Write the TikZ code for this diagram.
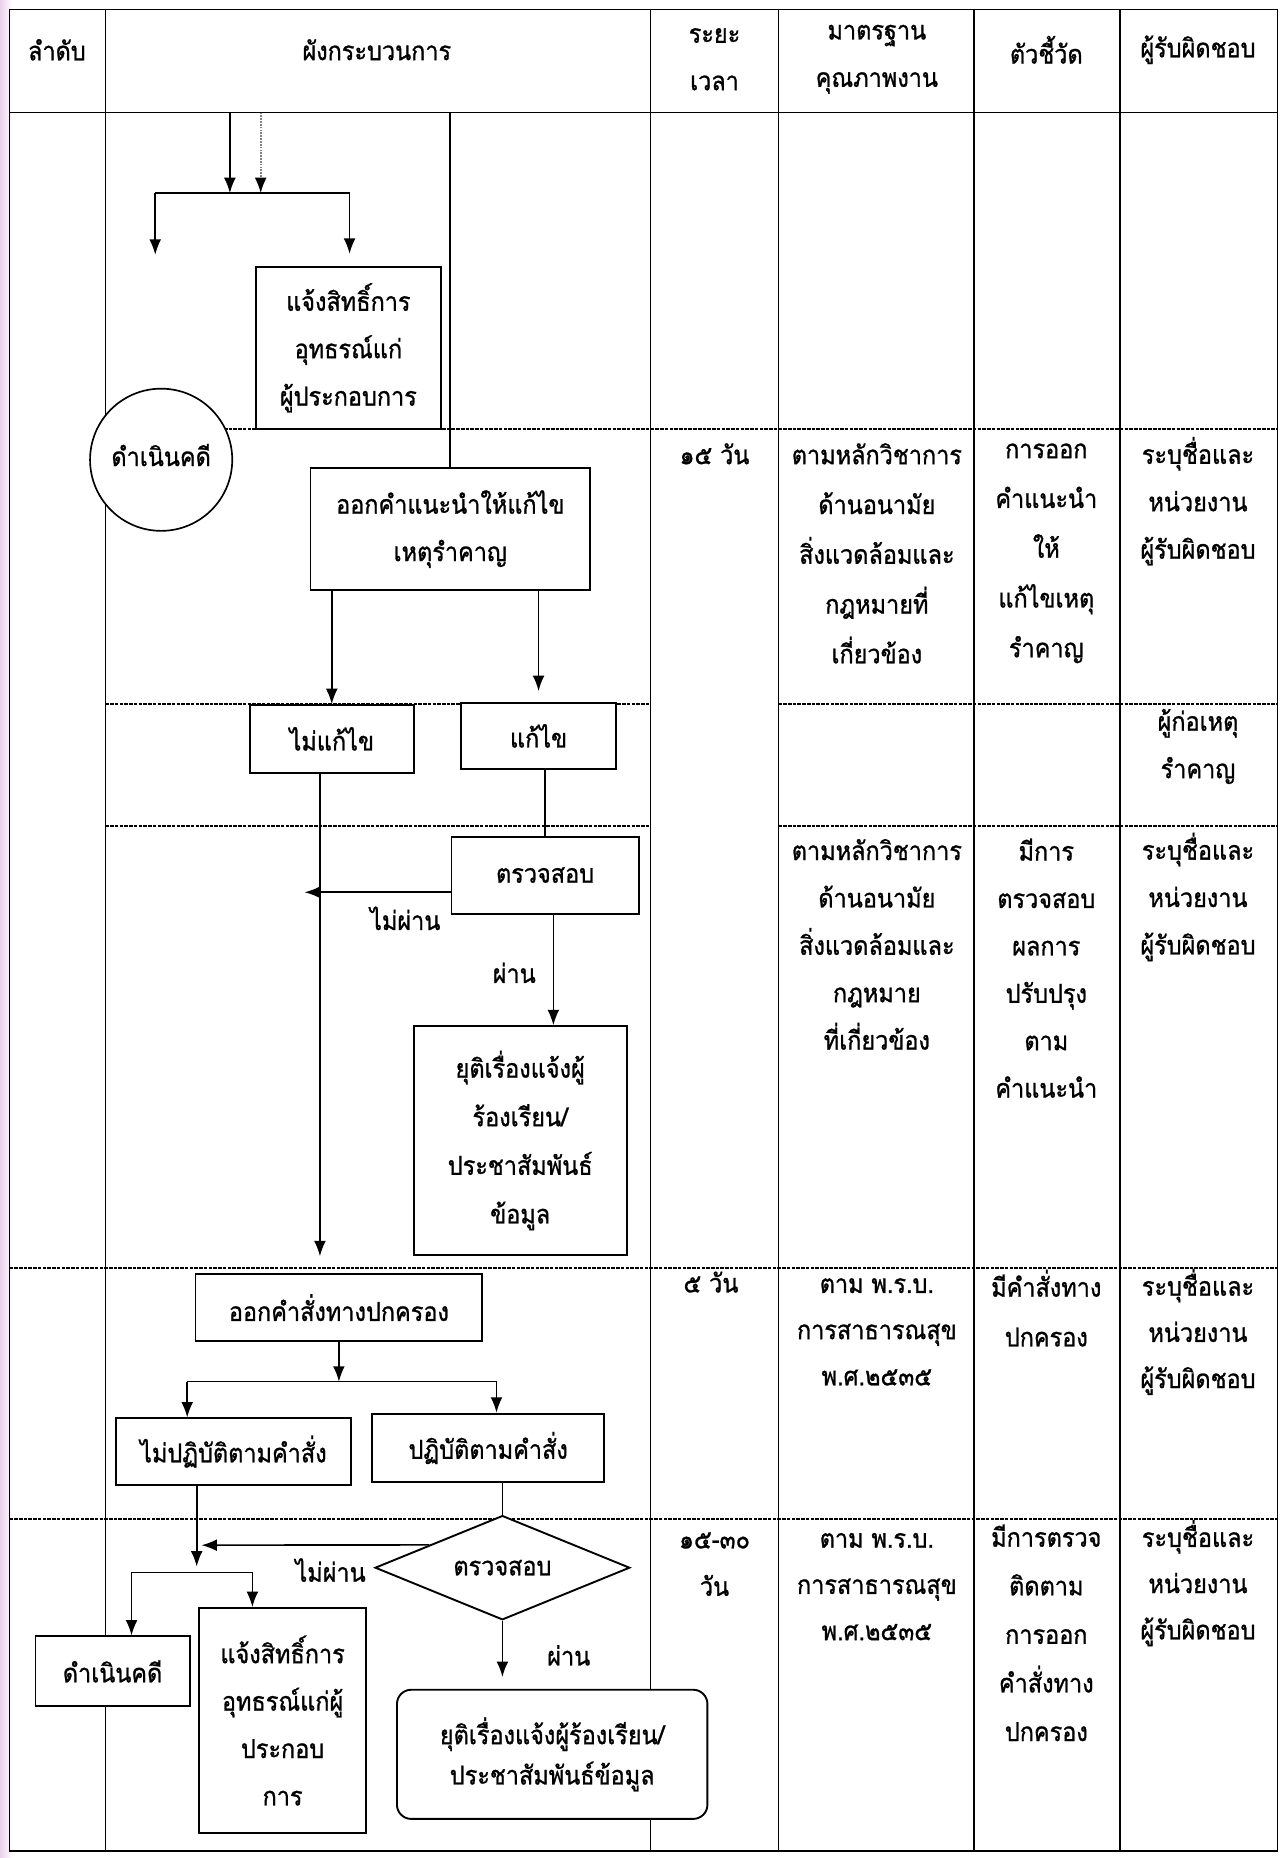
\documentclass[tikz,border=0pt]{standalone}
\usepackage{fontspec}
\setmainfont[Script=Thai,FakeStretch=0.9,FakeBold=1]{Loma}
\usepackage{xcolor}
\usepackage{tikz}
\usetikzlibrary{positioning,calc,shapes.geometric}
\usetikzlibrary{arrows.meta}

\begin{document}
\begin{tikzpicture}[x=1pt,y=-1pt,>={Latex[length=13pt,width=10pt]},
	every node/.style={font=\fontsize{22}{40}\selectfont,align=center,inner sep=0pt},
	txt/.style={font=\fontsize{22}{#1}\selectfont},
	box/.style={draw,line width=1.6pt,fill=white},
	grid/.style={line width=1.2pt},
	rowline/.style={line width=1.2pt,dash pattern=on 3pt off 1pt},
	flow/.style={line width=1.4pt}]
	\useasboundingbox (0,0) rectangle (1082,1568);
	\fill[left color=violet!18,right color=white] (0,0) rectangle (10,1568);
	% table
	\draw[grid] (8,8) rectangle (1078,1562);
	\draw[grid] (8,95) -- (1078,95);
	\foreach \cx in {89,549,657,822,945}
		\draw[grid] (\cx,8) -- (\cx,1562);
	\draw[rowline] (89,362) -- (1078,362);
	\foreach \ry in {594,697}{
		\draw[rowline] (89,\ry) -- (549,\ry);
		\draw[rowline] (657,\ry) -- (1078,\ry);
	}
	\draw[rowline] (8,1070) -- (1078,1070);
	\draw[rowline] (8,1282) -- (1078,1282);
	% header
	\node (h1) at (48,42) {ลำดับ};
	\node (h2) at (318,42) {ผังกระบวนการ};
	\node (h3) at (603,50) {ระยะ\\เวลา};
	\node (h4) at (740,50) {มาตรฐาน\\คุณภาพงาน};
	\node (h5) at (883,42) {ตัวชี้วัด};
	\node (h6) at (1011,42) {ผู้รับผิดชอบ};
	% right columns
	\node (t1) at (603,383) {๑๕ วัน};
	\node[txt=42] (s1) at (740,467) {ตามหลักวิชาการ\\ด้านอนามัย\\สิ่งแวดล้อมและ\\กฎหมายที่\\เกี่ยวข้อง};
	\node[txt=42] (k1) at (883,467) {การออก\\คำแนะนำ\\ให้\\แก้ไขเหตุ\\รำคาญ};
	\node[txt=40] (r1) at (1011,423) {ระบุชื่อและ\\หน่วยงาน\\ผู้รับผิดชอบ};
	\node (r2) at (1011,630) {ผู้ก่อเหตุ\\รำคาญ};
	\node (s3) at (740,797) {ตามหลักวิชาการ\\ด้านอนามัย\\สิ่งแวดล้อมและ\\กฎหมาย\\ที่เกี่ยวข้อง};
	\node (k3) at (883,817) {มีการ\\ตรวจสอบ\\ผลการ\\ปรับปรุง\\ตาม\\คำแนะนำ};
	\node (r3) at (1011,757) {ระบุชื่อและ\\หน่วยงาน\\ผู้รับผิดชอบ};
	\node (t4) at (600,1082) {๕ วัน};
	\node[txt=39] (s4) at (740,1124) {ตาม พ.ร.บ.\\การสาธารณสุข\\พ.ศ.๒๕๓๕};
	\node[txt=42] (k4) at (883,1104) {มีคำสั่งทาง\\ปกครอง};
	\node[txt=39] (r4) at (1011,1124) {ระบุชื่อและ\\หน่วยงาน\\ผู้รับผิดชอบ};
	\node (t5) at (603,1320) {๑๕-๓๐\\วัน};
	\node[txt=39] (s5) at (740,1339) {ตาม พ.ร.บ.\\การสาธารณสุข\\พ.ศ.๒๕๓๕};
	\node[txt=41] (k5) at (883,1378) {มีการตรวจ\\ติดตาม\\การออก\\คำสั่งทาง\\ปกครอง};
	\node[txt=39] (r5) at (1011,1336) {ระบุชื่อและ\\หน่วยงาน\\ผู้รับผิดชอบ};
	% flow boxes
	\node[box,minimum width=156,minimum height=137] (rights1) at (294,293.5) {แจ้งสิทธิ์การ\\อุทธรณ์แก่\\ผู้ประกอบการ};
	\node[circle,draw,line width=1.4pt,fill=white,minimum size=120] (sue1) at (136,388) {\raisebox{8pt}{ดำเนินคดี}};
	\node[box,minimum width=236,minimum height=103] (advise) at (380,446.5) {ออกคำแนะนำให้แก้ไข\\เหตุรำคาญ};
	\node[box,minimum width=138,minimum height=57] (nofix) at (280,623.5) {ไม่แก้ไข};
	\node[box,minimum width=131,minimum height=56] (fix) at (454.5,621) {แก้ไข};
	\node[box,minimum width=158,minimum height=65] (check1) at (460,738.5) {ตรวจสอบ};
	\node[box,minimum width=180,minimum height=193,txt=41] (end1) at (439,962.5) {ยุติเรื่องแจ้งผู้\\ร้องเรียน/\\ประชาสัมพันธ์\\ข้อมูล};
	\node[box,minimum width=242,minimum height=57] (order) at (286,1103.5) {ออกคำสั่งทางปกครอง};
	\node[box,minimum width=198,minimum height=56] (noobey) at (197,1225) {ไม่ปฏิบัติตามคำสั่ง};
	\node[box,minimum width=196,minimum height=58] (obey) at (412,1222) {ปฏิบัติตามคำสั่ง};
	\node[box,diamond,aspect=2.4,minimum width=215,minimum height=88] (check2) at (424,1323) {ตรวจสอบ};
	\node[box,minimum width=130,minimum height=59] (sue2) at (95,1410.5) {ดำเนินคดี};
	\node[box,minimum width=141,minimum height=190] (rights2) at (238.5,1452) {แจ้งสิทธิ์การ\\อุทธรณ์แก่ผู้\\ประกอบ\\การ};
	\node[box,rounded corners=12pt,minimum width=262,minimum height=109,txt=34] (end2) at (466,1480.5) {ยุติเรื่องแจ้งผู้ร้องเรียน/\\ประชาสัมพันธ์ข้อมูล};
	% connectors
	\coordinate (in1) at (194,95);
	\coordinate (in2) at (220,95);
	\coordinate (br1) at (131,163);
	\coordinate (br2) at (295,163);
	\draw[flow,->] (in1) -- (in1 |- br1);
	\draw[flow,-{Latex[length=13pt,width=10pt,color=black]},densely dotted,gray] (in2) -- (in2 |- br1);
	\draw[flow] (br1) -- (br2);
	\draw[flow,->] (br1) -- ++(0,52);
	\draw[flow,->] (br2) -- ($(br2 |- rights1.north)+(0,-10)$);
	\coordinate (top3) at (380,95);
	\draw[flow] (top3) -- (advise.north);
	\draw[flow,->] (advise.south -| nofix) -- (nofix.north);
	\draw[flow,->] (advise.south -| fix) -- ($(fix.north)+(0,-9)$);
	\coordinate (j1) at (270,753);
	\draw[flow,->] (nofix.south -| j1) -- ($(j1 |- order.north)+(0,-14)$);
	\draw[flow] (fix.south -| check1) -- (check1.north);
	\draw[flow,->] (check1.west |- j1) -- ($(j1)+(-13,0)$);
	\node (nopass1) at (342,775) {ไม่ผ่าน};
	\draw[flow,->] (check1.south -| 467,0) -- (end1.north -| 467,0);
	\node (pass1) at (434,821) {ผ่าน};
	\coordinate (br3) at (158,1166);
	\coordinate (br4) at (419,1166);
	\draw[flow,->] (order.south) -- (order.south |- br3);
	\draw[flow] (br3) -- (br4);
	\draw[flow,->] (br3) -- (br3 |- noobey.north);
	\draw[flow,->] (br4) -- (br4 |- obey.north);
	\coordinate (j2) at (166,1304);
	\coordinate (br5) at (111,1327);
	\coordinate (br6) at (213,1327);
	\draw[flow,->] (noobey.south -| j2) -- ($(j2 |- br5)+(0,-5)$);
	\draw[flow] (br5) -- (br6);
	\draw[flow,->] (br5) -- (br5 |- sue2.north);
	\draw[flow,->] (br6) -- (br6 |- rights2.north);
	\draw[flow] (obey.south -| check2) -- (check2.north);
	\draw[flow,->] ($(check2.west)!0.43!(check2.north)$) -- ($(j2)+(4,0)$);
	\node (nopass2) at (279,1325) {ไม่ผ่าน};
	\draw[flow,->] (check2.south) -- ($(check2.south |- end2.north)+(0,-10)$);
	\node (pass2) at (480,1397) {ผ่าน};
\end{tikzpicture}
\end{document}
